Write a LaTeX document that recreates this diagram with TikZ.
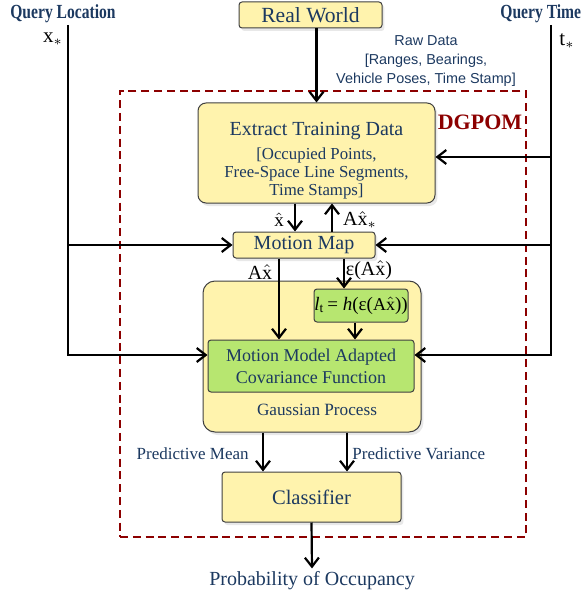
\documentclass[tikz,border=0pt]{standalone}
\usepackage{fontspec}
\setmainfont{Liberation Serif}
\newfontfamily\rawfont{Liberation Sans}
\newfontfamily\queryfont{Liberation Serif}[FakeStretch=0.78]
\usetikzlibrary{arrows.meta,shadows}
\definecolor{boxyellow}{RGB}{255,243,173}
\definecolor{boxgreen}{RGB}{183,230,112}
\definecolor{navy}{RGB}{28,57,96}
\definecolor{dgred}{RGB}{140,0,0}
\begin{document}
\begin{tikzpicture}[x=0.5pt,y=-0.5pt,
  box/.style={draw=black!75,line width=0.5pt,fill=boxyellow,rounded corners=1.5pt,
    text=navy,inner sep=0pt,
    drop shadow={opacity=0.18,shadow xshift=1.2pt,shadow yshift=-1.5pt}},
  greenbox/.style={draw=black!75,line width=0.5pt,fill=boxgreen,rounded corners=1.5pt,
    text=navy,inner sep=0pt},
  arr/.style={line width=1.1pt,-{Straight Barb[length=4.5pt,width=7pt]}},
  lbl/.style={text=navy,inner sep=0pt}]
\useasboundingbox (0,0) rectangle (582,599);
% DGPOM frame
\node[draw=dgred,line width=1.1pt,dash pattern=on 4pt off 2.4pt,
  minimum width=203pt,minimum height=223pt,inner sep=0pt] (frame) at (323,314) {};
\node[text=dgred,font=\fontsize{11}{12}\selectfont\bfseries] (dgpom) at (480,122) {DGPOM};
% boxes
\node[box,minimum width=71.5pt,minimum height=13pt,font=\fontsize{10.8}{12}\selectfont]
  (realworld) at (310.5,15) {Real World};
\node[box,rounded corners=4pt,minimum width=118.5pt,minimum height=50pt,align=center,
  font=\fontsize{8.4}{9}\selectfont] (extract) at (316.5,153)
  {\rule{0pt}{14.5pt}{\fontsize{10}{12}\selectfont Extract Training Data}\\[3pt]
   {[}Occupied Points,\\ Free-Space Line Segments,\\ Time Stamps{]}};
\node[box,minimum width=71pt,minimum height=13pt,font=\fontsize{10}{12}\selectfont]
  (motionmap) at (304,245) {Motion Map};
\node[box,rounded corners=6pt,minimum width=109pt,minimum height=75.5pt] (gp) at (312,356.5) {};
\node[lbl,font=\fontsize{8.6}{10}\selectfont] (gptext) at (317,410) {Gaussian Process};
\node[greenbox,minimum width=47pt,minimum height=16.5pt,text=black,font=\fontsize{9.5}{11}\selectfont]
  (lt) at (361,305.5) {\textit{l}\textsubscript{t}\,= \textit{h}(ε({\small A$\hat{\textrm{x}}$}))};
\node[greenbox,minimum width=103pt,minimum height=26pt,align=center,font=\fontsize{9}{11}\selectfont]
  (covfn) at (311,366) {Motion Model Adapted\\ Covariance Function};
\node[box,minimum width=89.5pt,minimum height=25pt,font=\fontsize{10.3}{12}\selectfont]
  (classifier) at (311.5,497) {Classifier};
% inputs and outputs
\node[lbl,font=\queryfont\fontsize{10}{11}\bfseries] (qloc) at (63,14) {Query Location};
\node[lbl,anchor=west,font=\queryfont\fontsize{10}{11}\bfseries] (qtime) at (500,14) {Query Time};
\node[inner sep=0pt,font=\fontsize{10.5}{12}\selectfont] (xstar) at (53,39) {x$_*$};
\node[inner sep=0pt,font=\fontsize{10.5}{12}\selectfont] (tstar) at (567,41) {t$_*$};
\node[lbl,align=center,font=\rawfont\fontsize{7.2}{9.5}\selectfont] (rawdata) at (426,61)
  {Raw Data\\ {[}Ranges, Bearings,\\ Vehicle Poses, Time Stamp{]}};
\node[lbl,inner sep=1.5pt,font=\fontsize{10}{12}\selectfont] (prob) at (312,581) {Probability of Occupancy};
\node[lbl,anchor=east,font=\fontsize{8.5}{10}\selectfont] (meanlbl) at (249,454) {Predictive Mean};
\node[lbl,anchor=west,font=\fontsize{8.5}{10}\selectfont] (varlbl) at (352,454) {Predictive Variance};
% labels of the links
\node[inner sep=0pt,font=\fontsize{9.5}{11}\selectfont] (xhatlbl) at (279,220) {$\hat{\textrm{x}}$};
\node[inner sep=0pt,font=\fontsize{10}{12}\selectfont] (axstarlbl) at (360,220) {A$\hat{\textrm{x}}_*$};
\node[inner sep=0pt,font=\fontsize{10}{12}\selectfont] (axlbl) at (260,272) {A$\hat{\textrm{x}}$};
\node[inner sep=0pt,font=\fontsize{10}{12}\selectfont] (epslbl) at (369,270) {ε(A$\hat{\textrm{x}}$)};
% x positions of the links
\coordinate (xtop) at (68,25);
\coordinate (ttop) at (551,25);
\coordinate (xhat) at (295,0);
\coordinate (axstar) at (332,0);
\coordinate (ax) at (279,0);
\coordinate (eps) at (344,0);
\coordinate (ltx) at (355,0);
\coordinate (mean) at (263,0);
\coordinate (var) at (347,0);
% links
\draw[arr] (realworld.south -| extract.north) -- (extract.north);
\draw[arr] (extract.south -| xhat) -- (motionmap.north -| xhat);
\draw[arr] (motionmap.north -| axstar) -- (extract.south -| axstar);
\draw[arr] (motionmap.south -| ax) -- (covfn.north -| ax);
\draw[arr] (motionmap.south -| eps) -- (lt.north -| eps);
\draw[arr] (lt.south -| ltx) -- (covfn.north -| ltx);
\draw[arr] (gp.south -| mean) -- (classifier.north -| mean);
\draw[arr] (gp.south -| var) -- (classifier.north -| var);
\draw[arr] (classifier.south) -- (prob.north);
% query location
\draw[arr] (xtop) |- ([yshift=5.5pt]covfn.west);
\draw[arr] (xtop |- motionmap.west) -- (motionmap.west);
% query time
\draw[arr] (ttop) |- ([yshift=5.5pt]covfn.east);
\draw[arr] ([yshift=-2pt]extract.east -| ttop) -- ([yshift=-2pt]extract.east);
\draw[arr] (ttop |- motionmap.east) -- (motionmap.east);
\end{tikzpicture}
\end{document}
